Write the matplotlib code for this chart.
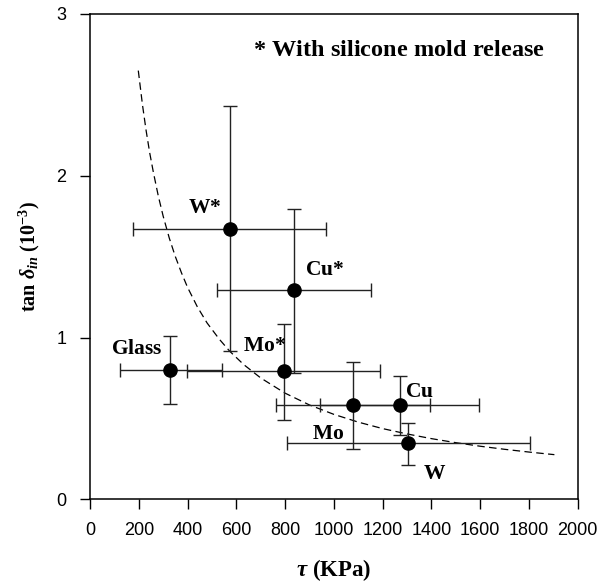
import numpy as np
import matplotlib
matplotlib.use("Agg")
import matplotlib.pyplot as plt

plt.rcParams["font.family"] = ["Liberation Sans", "DejaVu Sans"]
plt.rcParams["mathtext.fontset"] = "custom"
plt.rcParams["mathtext.rm"] = "Liberation Serif:bold"
plt.rcParams["mathtext.it"] = "Liberation Serif:italic:bold"
plt.rcParams["mathtext.bf"] = "Liberation Serif:bold"

# measured points (tau in KPa, tan delta in 1e-3)
names = ["W*", "Cu*", "Glass", "Mo*", "Mo", "Cu", "W"]
tau = [573, 835, 330, 794, 1078, 1269, 1304]
tan_d = [1.668, 1.293, 0.798, 0.794, 0.582, 0.582, 0.346]
tau_lo = [175, 519, 123, 396, 764, 945, 808]
tau_hi = [966, 1151, 543, 1190, 1392, 1593, 1802]
tan_lo = [0.915, 0.78, 0.588, 0.49, 0.31, 0.40, 0.212]
tan_hi = [2.43, 1.796, 1.01, 1.086, 0.85, 0.761, 0.469]

# dashed fit curve
fit_tau = [198, 215, 230, 245, 260, 280, 300, 325, 350, 375, 400, 440, 480, 530, 573,
           630, 700, 800, 900, 1000, 1100, 1200, 1300, 1400, 1500, 1600, 1700, 1800, 1904]
fit_tan = [2.65, 2.44, 2.28, 2.14, 2.02, 1.875, 1.75, 1.615, 1.5, 1.40, 1.31, 1.19, 1.09,
           0.99, 0.915, 0.833, 0.75, 0.656, 0.583, 0.525, 0.477, 0.437, 0.404, 0.375,
           0.35, 0.328, 0.309, 0.292, 0.276]

# label anchors (centre of text)
label_xy = [(471, 1.806), (962, 1.42), (192, 0.934), (717, 0.952),
            (975, 0.407), (1351, 0.664), (1413, 0.16)]

fig = plt.figure(figsize=(6, 5.87), dpi=100)
ax = fig.add_axes([0.15, 0.1494, 0.813, 0.8268])

ax.plot(fit_tau, fit_tan, color="black", lw=0.9, linestyle=(0, (6, 3.5)))

tau = np.array(tau)
tan_d = np.array(tan_d)
xerr = [tau - np.array(tau_lo), np.array(tau_hi) - tau]
yerr = [tan_d - np.array(tan_lo), np.array(tan_hi) - tan_d]
ax.errorbar(tau, tan_d, xerr=xerr, yerr=yerr, fmt="o", color="black",
            ecolor="#222222", elinewidth=1.0, capsize=5, capthick=1.0,
            markersize=9.5, zorder=3)

for name, (lx, ly) in zip(names, label_xy):
    ax.text(lx, ly, r"$\mathrm{%s}$" % name.replace("*", "{*}"),
            ha="center", va="center", fontsize=15.5)

ax.text(1265, 2.78, r"$\mathrm{{*}\ With\ silicone\ mold\ release}$",
        ha="center", va="center", fontsize=17.5)

ax.set_xlim(0, 2000)
ax.set_ylim(0, 3)
ax.set_xticks(range(0, 2001, 200))
ax.set_yticks([0, 1, 2, 3])
ax.tick_params(direction="out", length=7, width=1, labelsize=13)
ax.tick_params(axis="x", pad=9)
ax.tick_params(axis="y", pad=10)
for sp in ax.spines.values():
    sp.set_linewidth(1.1)

ax.set_xlabel(r"$\tau\ \mathrm{(KPa)}$", fontsize=16.5, labelpad=13)
ax.set_ylabel(r"$\mathrm{tan}\ \delta_{in}\ \mathrm{(10^{-3})}$", fontsize=14.5, labelpad=10)

fig.savefig("out.png", dpi=100)
